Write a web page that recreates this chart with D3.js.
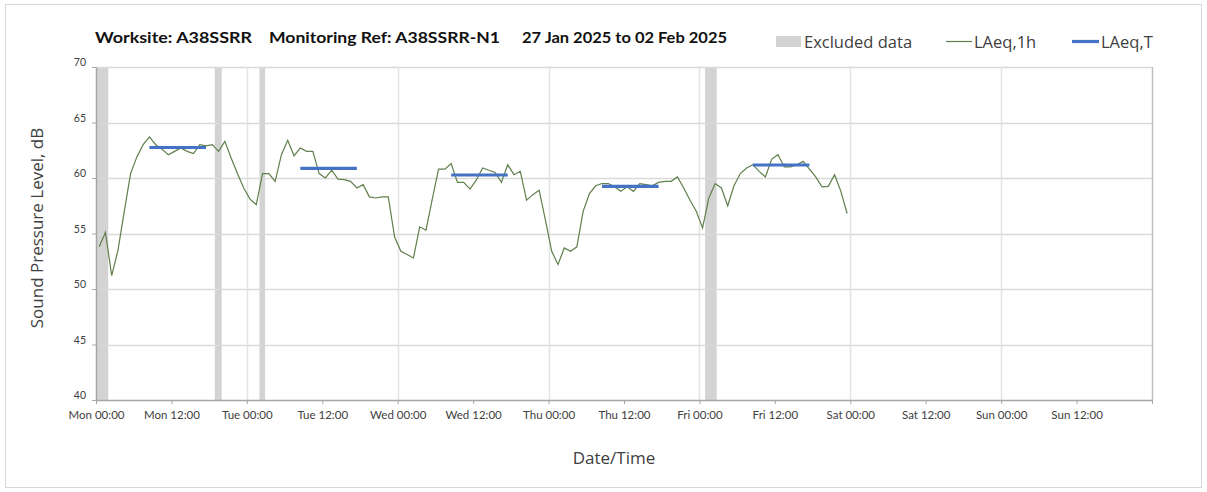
<!DOCTYPE html>
<html>
<head>
<meta charset="utf-8">
<script src="https://cdn.jsdelivr.net/npm/d3@7"></script>
<style>
  body { margin: 0; background: #fff; }
  svg text { fill: #404040; }
</style>
</head>
<body>
<div id="chart"></div>
<script>
// hourly LAeq values, Mon 00:00 onwards (hour index 0..119)
var laeq1h = [
  53.8, 55.1, 51.2, 53.5, 57.0, 60.4, 61.9, 63.0, 63.7, 63.0,
  62.6, 62.1, 62.4, 62.7, 62.4, 62.2, 63.0, 62.9, 63.0, 62.4,
  63.3, 61.8, 60.4, 59.1, 58.1, 57.6, 60.4, 60.4, 59.7, 62.1,
  63.4, 62.0, 62.7, 62.4, 62.4, 60.4, 60.0, 60.7, 59.9, 59.85,
  59.7, 59.1, 59.4, 58.3, 58.2, 58.3, 58.3, 54.7, 53.4, 53.1,
  52.8, 55.6, 55.3, 58.1, 60.8, 60.8, 61.3, 59.6, 59.6, 59.0,
  59.8, 60.9, 60.7, 60.5, 59.6, 61.2, 60.3, 60.6, 58.0, 58.5,
  58.9, 56.2, 53.4, 52.2, 53.7, 53.4, 53.8, 57.0, 58.6, 59.3,
  59.5, 59.5, 59.2, 58.8, 59.2, 58.8, 59.5, 59.4, 59.3, 59.6,
  59.7, 59.7, 60.1, 59.1, 58.0, 57.0, 55.5, 58.2, 59.5, 59.1,
  57.5, 59.3, 60.4, 60.9, 61.2, 60.6, 60.1, 61.7, 62.1, 61.0,
  61.0, 61.2, 61.5, 60.8, 60.1, 59.2, 59.25, 60.3, 58.8, 56.8
];

// LAeq,T daytime periods: start hour, end hour, level
var periodStart = [8, 32, 56, 80, 104];
var periodEnd   = [18, 42, 66, 90, 114];
var periodLevel = [62.75, 60.87, 60.27, 59.25, 61.17];

// excluded data windows (hours from Mon 00:00)
var exclStart = [0, 18.9, 26, 96.9];
var exclEnd   = [1.95, 20, 26.9, 98.75];

var xTickHours  = [0, 12, 24, 36, 48, 60, 72, 84, 96, 108, 120, 132, 144, 156, 168];
var xTickLabels = ['Mon 00:00', 'Mon 12:00', 'Tue 00:00', 'Tue 12:00', 'Wed 00:00', 'Wed 12:00',
                   'Thu 00:00', 'Thu 12:00', 'Fri 00:00', 'Fri 12:00', 'Sat 00:00', 'Sat 12:00',
                   'Sun 00:00', 'Sun 12:00', ''];
var yTicks = [40, 45, 50, 55, 60, 65, 70];

var W = 1207, H = 492;
var margin = {left: 96, right: 55, top: 67, bottom: 92};

var svg = d3.select('#chart').append('svg')
  .attr('width', W).attr('height', H);

// outer frame
svg.append('rect')
  .attr('x', 5.5).attr('y', 4.5).attr('width', 1196).attr('height', 483)
  .attr('fill', 'none').attr('stroke', '#d9d9d9');

var x = d3.scaleLinear().domain([0, 168]).range([margin.left, W - margin.right]);
var y = d3.scaleLinear().domain([40, 70]).range([H - margin.bottom, margin.top]);

// excluded bands
svg.append('g').selectAll('rect')
  .data(exclStart)
  .join('rect')
  .attr('x', function(d){ return x(d); })
  .attr('width', function(d, i){ return x(exclEnd[i]) - x(d); })
  .attr('y', y(70))
  .attr('height', y(40) - y(70))
  .attr('fill', '#d3d3d3');

// grid
svg.append('g').selectAll('line')
  .data(yTicks.slice(1))
  .join('line')
  .attr('x1', x(0)).attr('x2', x(168))
  .attr('y1', function(d){ return Math.round(y(d)) + 0.5; })
  .attr('y2', function(d){ return Math.round(y(d)) + 0.5; })
  .attr('stroke', '#d9d9d9').attr('stroke-width', 1.5);

svg.append('g').selectAll('line')
  .data([24, 48, 72, 96, 120, 144, 168])
  .join('line')
  .attr('x1', function(d){ return Math.round(x(d)) + 0.5; })
  .attr('x2', function(d){ return Math.round(x(d)) + 0.5; })
  .attr('y1', y(70)).attr('y2', y(40))
  .attr('stroke', function(d){ return d == 168 ? '#bfbfbf' : '#e3e3e3'; })
  .attr('stroke-width', 1.5);

// axes
var xAxis = svg.append('g')
  .attr('transform', 'translate(0,' + y(40) + ')')
  .call(d3.axisBottom(x).tickValues(xTickHours)
    .tickFormat(function(d, i){ return xTickLabels[i]; })
    .tickSize(4).tickSizeOuter(0));
xAxis.select('.domain').attr('stroke', '#a6a6a6').attr('stroke-width', 1.5);
xAxis.selectAll('.tick line').attr('stroke', '#a6a6a6');
xAxis.selectAll('text')
  .attr('dy', '1.05em')
  .style('font-family', 'Lato, sans-serif').style('font-size', '11.5px');

var yAxis = svg.append('g')
  .attr('transform', 'translate(' + x(0) + ',0)')
  .call(d3.axisLeft(y).tickValues(yTicks).tickSize(4).tickSizeOuter(0));
yAxis.select('.domain').attr('stroke', '#a6a6a6').attr('stroke-width', 1.5);
yAxis.selectAll('.tick line').attr('stroke', '#a6a6a6');
yAxis.selectAll('text')
  .attr('x', -10).attr('dy', '-0.1em')
  .style('font-family', 'Lato, sans-serif').style('font-size', '10.5px');

// hourly line
var line = d3.line()
  .x(function(d, i){ return x(i + 0.5); })
  .y(function(d){ return y(d); });

svg.append('path')
  .datum(laeq1h)
  .attr('d', line)
  .attr('fill', 'none')
  .attr('stroke', '#5f7f4c')
  .attr('stroke-width', 1.2);

// LAeq,T segments
svg.append('g').selectAll('line')
  .data(periodStart)
  .join('line')
  .attr('x1', function(d){ return x(d + 0.5); })
  .attr('x2', function(d, i){ return x(periodEnd[i] - 0.5); })
  .attr('y1', function(d, i){ return y(periodLevel[i]); })
  .attr('y2', function(d, i){ return y(periodLevel[i]); })
  .attr('stroke', '#4472c4')
  .attr('stroke-width', 3.2);

// title
var title = [
  {t: 'Worksite: A38SSRR', x: 95, w: 157},
  {t: 'Monitoring Ref: A38SSRR-N1', x: 269, w: 231},
  {t: '27 Jan 2025 to 02 Feb 2025', x: 522, w: 205}
];
svg.append('g').selectAll('text')
  .data(title)
  .join('text')
  .attr('x', function(d){ return d.x; })
  .attr('y', 43)
  .attr('textLength', function(d){ return d.w; })
  .attr('lengthAdjust', 'spacingAndGlyphs')
  .style('font-family', 'Lato, sans-serif')
  .style('font-weight', 'bold')
  .style('font-size', '15px')
  .style('fill', '#111')
  .text(function(d){ return d.t; });

// legend
var lg = svg.append('g').style('font-family', '"Open Sans", sans-serif').style('font-size', '16.5px');
lg.append('rect').attr('x', 776).attr('y', 36).attr('width', 25).attr('height', 11).attr('fill', '#d3d3d3');
lg.append('text').attr('x', 804).attr('y', 47.5).text('Excluded data');
lg.append('line').attr('x1', 946).attr('x2', 972).attr('y1', 41.5).attr('y2', 41.5)
  .attr('stroke', '#5f7f4c').attr('stroke-width', 1.2);
lg.append('text').attr('x', 974).attr('y', 47.5).text('LAeq,1h');
lg.append('line').attr('x1', 1072).attr('x2', 1099).attr('y1', 41.5).attr('y2', 41.5)
  .attr('stroke', '#4472c4').attr('stroke-width', 3.2);
lg.append('text').attr('x', 1101).attr('y', 47.5).text('LAeq,T');

// axis titles
svg.append('text')
  .attr('transform', 'translate(43,' + 228 + ') rotate(-90)')
  .attr('text-anchor', 'middle')
  .style('font-family', '"Open Sans", sans-serif').style('font-size', '17px')
  .text('Sound Pressure Level, dB');

svg.append('text')
  .attr('x', 614).attr('y', 464)
  .attr('text-anchor', 'middle')
  .style('font-family', '"Open Sans", sans-serif').style('font-size', '17px')
  .text('Date/Time');
</script>
</body>
</html>
